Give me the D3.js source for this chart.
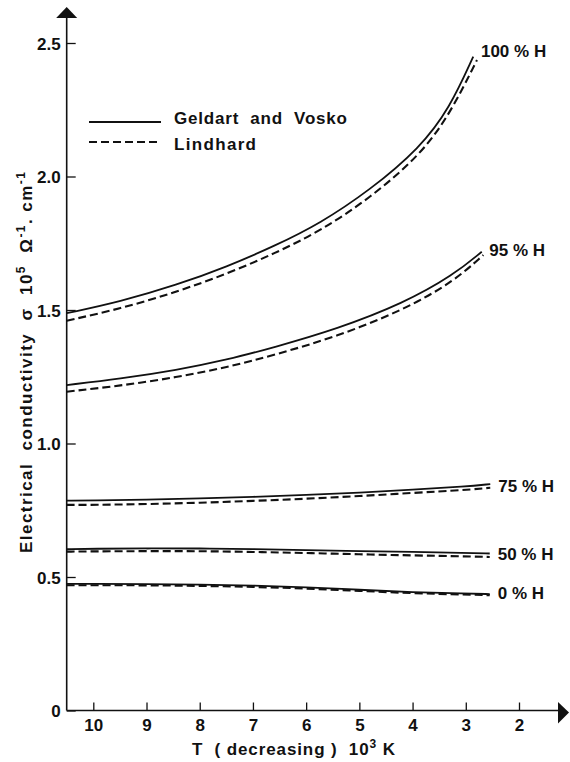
<!DOCTYPE html>
<html><head><meta charset="utf-8">
<script src="https://cdn.jsdelivr.net/npm/d3@7/dist/d3.min.js"></script>
<style>
html,body{margin:0;padding:0;background:#fff;}
svg{display:block;}
text{font-family:"Liberation Sans Narrow","Liberation Sans",Arial,sans-serif;font-weight:bold;fill:#111;}
</style></head>
<body>
<svg id="chart" width="570" height="762"></svg>
<script>
// ---- data ----
const xTicks = [10, 9, 8, 7, 6, 5, 4, 3, 2];
const yTicks = [0, 0.5, 1.0, 1.5, 2.0, 2.5];
const yTickLabels = ["0", "0.5", "1.0", "1.5", "2.0", "2.5"];

const T100G = [10.5, 9.5, 8.43, 7.49, 6.59, 5.74, 4.80, 3.86, 3.30, 2.86];
const v100G = [1.488, 1.531, 1.594, 1.662, 1.740, 1.824, 1.949, 2.107, 2.257, 2.449];
const T100L = [10.5, 9.5, 8.43, 7.49, 6.59, 5.74, 4.80, 3.86, 3.30, 2.79];
const v100L = [1.460, 1.504, 1.568, 1.635, 1.712, 1.795, 1.919, 2.079, 2.233, 2.436];

const T95G = [10.5, 9.5, 8.43, 7.49, 6.59, 5.43, 4.17, 3.23, 2.70];
const v95G = [1.219, 1.242, 1.275, 1.313, 1.361, 1.428, 1.525, 1.631, 1.718];
const T95L = [10.5, 9.5, 8.43, 7.49, 6.59, 5.43, 4.17, 3.23, 2.67];
const v95L = [1.194, 1.216, 1.248, 1.285, 1.332, 1.400, 1.500, 1.606, 1.706];

const T75 = [10.5, 10, 9, 8, 7, 6, 5, 4, 3, 2.54];
const v75G = [0.786, 0.787, 0.790, 0.794, 0.800, 0.807, 0.816, 0.827, 0.839, 0.848];
const v75L = [0.770, 0.770, 0.773, 0.778, 0.785, 0.793, 0.803, 0.815, 0.826, 0.834];

const T50 = [10.5, 10, 9, 8, 7, 6, 5, 4, 3, 2.55];
const v50G = [0.604, 0.606, 0.607, 0.607, 0.605, 0.601, 0.597, 0.594, 0.590, 0.588];
const v50L = [0.595, 0.596, 0.597, 0.597, 0.594, 0.590, 0.585, 0.581, 0.577, 0.575];

const T0 = [10.5, 10, 9, 8, 7, 6, 5, 4, 3, 2.55];
const v0G = [0.474, 0.474, 0.474, 0.472, 0.468, 0.462, 0.452, 0.443, 0.438, 0.436];
const v0L = [0.469, 0.469, 0.469, 0.467, 0.463, 0.457, 0.448, 0.439, 0.434, 0.432];

const curveLabels = ["100 % H", "95 % H", "75 % H", "50 % H", "0 % H"];
const legendLabels = ["Geldart  and  Vosko", "Lindhard"];

// ---- build series ----
const zip = (T, v) => T.map((t, i) => ({t: t, v: v[i]}));
const groups = [
  {label: curveLabels[0], G: zip(T100G, v100G), L: zip(T100L, v100L), dx: 4, dy: -7},
  {label: curveLabels[1], G: zip(T95G, v95G), L: zip(T95L, v95L), dx: 6, dy: -4},
  {label: curveLabels[2], G: zip(T75, v75G), L: zip(T75, v75L), dx: 8, dy: 0},
  {label: curveLabels[3], G: zip(T50, v50G), L: zip(T50, v50L), dx: 8, dy: -1},
  {label: curveLabels[4], G: zip(T0, v0G), L: zip(T0, v0L), dx: 8, dy: -2}
];

const svg = d3.select("#chart");
const x = d3.scaleLinear().domain([10, 2]).range([93.3, 519]);
const y = d3.scaleLinear().domain([0, 2.5]).range([710.5, 43]);
const x0 = x(10.5), y0 = y(0);

// axes lines + arrows
svg.append("line").attr("x1", x0).attr("x2", x0).attr("y1", y0).attr("y2", 17)
  .attr("stroke", "#111").attr("stroke-width", 1.6);
svg.append("line").attr("x1", x0).attr("x2", 559).attr("y1", y0).attr("y2", y0)
  .attr("stroke", "#111").attr("stroke-width", 1.6);
svg.append("path").attr("d", `M${x0},7 L${x0 - 10.5},18 L${x0 + 10.5},18 Z`).attr("fill", "#111");
svg.append("path").attr("d", `M558,702 L569,712.5 L558,723.5 Z`).attr("fill", "#111");

// y axis
const yAxis = d3.axisLeft(y).tickValues(yTicks)
  .tickFormat((d, i) => yTickLabels[i]).tickSizeInner(-9).tickSizeOuter(0).tickPadding(6);
const gy = svg.append("g").attr("transform", `translate(${x0},0)`).call(yAxis);
gy.select(".domain").remove();
gy.selectAll(".tick line").attr("stroke", "#111").attr("stroke-width", 1.3);
gy.selectAll(".tick text").style("font-size", "17px").attr("fill", "#111")
  .attr("font-family", null).attr("dy", "0.36em");

// x axis
const xAxis = d3.axisBottom(x).tickValues(xTicks).tickFormat(d3.format("d"))
  .tickSizeInner(-8).tickSizeOuter(0).tickPadding(8);
const gx = svg.append("g").attr("transform", `translate(0,${y0})`).call(xAxis);
gx.select(".domain").remove();
gx.selectAll(".tick line").attr("stroke", "#111").attr("stroke-width", 1.3);
gx.selectAll(".tick text").style("font-size", "17px").attr("fill", "#111")
  .attr("font-family", null);

// curves
const line = d3.line().x(d => x(d.t)).y(d => y(d.v)).curve(d3.curveBasis);
groups.forEach(g => {
  svg.append("path").datum(g.G).attr("d", line).attr("fill", "none")
    .attr("stroke", "#111").attr("stroke-width", 1.8);
  svg.append("path").datum(g.L).attr("d", line).attr("fill", "none")
    .attr("stroke", "#111").attr("stroke-width", 2.1).attr("stroke-dasharray", "8,4");
  const eG = g.G[g.G.length - 1], eL = g.L[g.L.length - 1];
  const lx = Math.max(x(eG.t), x(eL.t)) + g.dx;
  const ly = (y(eG.v) + y(eL.v)) / 2 + g.dy;
  svg.append("text").attr("x", lx).attr("y", ly).attr("dy", "0.36em")
    .style("font-size", "17px").style("white-space", "pre").text(g.label);
});

// legend
svg.append("line").attr("x1", 89).attr("x2", 161).attr("y1", 122).attr("y2", 122)
  .attr("stroke", "#111").attr("stroke-width", 1.8);
svg.append("line").attr("x1", 89).attr("x2", 161).attr("y1", 142).attr("y2", 142)
  .attr("stroke", "#111").attr("stroke-width", 2.1).attr("stroke-dasharray", "8,4");
svg.append("text").attr("x", 174).attr("y", 124).style("font-size", "17px")
  .style("white-space", "pre").attr("textLength", 173).text(legendLabels[0]);
svg.append("text").attr("x", 174).attr("y", 150).style("font-size", "17px")
  .attr("textLength", 82).text(legendLabels[1]);

// x title
const xt = svg.append("text").attr("x", 192).attr("y", 755).style("font-size", "17px")
  .style("white-space", "pre").attr("textLength", 203);
xt.append("tspan").text("T  ( decreasing )  10");
xt.append("tspan").attr("dy", -7).style("font-size", "12px").text("3");
xt.append("tspan").attr("dy", 7).text(" K");

// y title
const yt = svg.append("text").attr("transform", "translate(32,553) rotate(-90)")
  .style("font-size", "17px").style("white-space", "pre").attr("textLength", 381);
yt.append("tspan").text("Electrical  conductivity  σ  10");
yt.append("tspan").attr("dy", -7).style("font-size", "12px").text("5");
yt.append("tspan").attr("dy", 7).text("  Ω");
yt.append("tspan").attr("dy", -7).style("font-size", "12px").text("-1");
yt.append("tspan").attr("dy", 7).text(". cm");
yt.append("tspan").attr("dy", -7).style("font-size", "12px").text("-1");
</script>
</body></html>
